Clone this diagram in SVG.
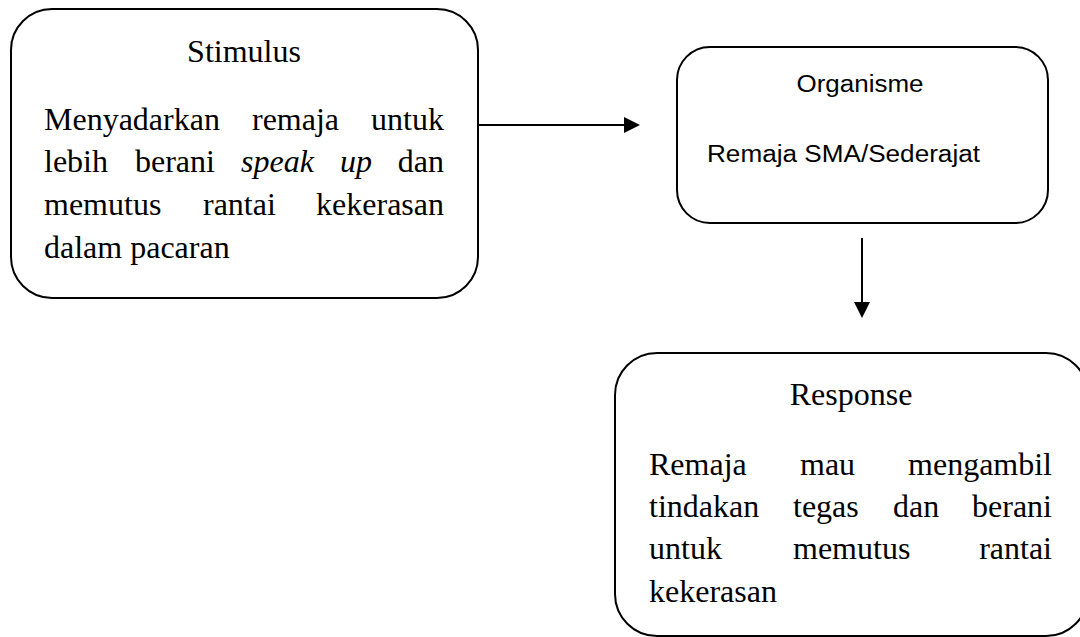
<svg xmlns="http://www.w3.org/2000/svg" width="1080" height="637" viewBox="0 0 1080 637">
<style>
.box{fill:#fff;stroke:#000;stroke-width:2}
.serif{font-family:"Liberation Serif","Times New Roman",serif;font-size:32px;fill:#000}
.sans{font-family:"Liberation Sans",Arial,sans-serif;font-size:23px;fill:#000}
.conn{stroke:#000;stroke-width:2;fill:none}
</style>
<defs>
<marker id="ah" markerUnits="userSpaceOnUse" markerWidth="16" markerHeight="16" refX="6" refY="8" orient="auto">
<path d="M0,0 L16,8 L0,16 Z" fill="#000"/>
</marker>
</defs>
<rect width="1080" height="637" fill="#fff"/>
<g id="stimulus">
<rect class="box" x="11" y="9" width="467" height="289" rx="41" ry="41"/>
<text class="serif" x="244" y="62" text-anchor="middle">Stimulus</text>
<text class="serif" y="130"><tspan x="44">Menyadarkan</tspan><tspan x="252">remaja</tspan><tspan x="444" text-anchor="end">untuk</tspan></text>
<text class="serif" y="172"><tspan x="44">lebih</tspan><tspan x="135">berani</tspan><tspan x="241" font-style="italic">speak</tspan><tspan x="340" font-style="italic">up</tspan><tspan x="444" text-anchor="end">dan</tspan></text>
<text class="serif" y="215"><tspan x="44">memutus</tspan><tspan x="203">rantai</tspan><tspan x="444" text-anchor="end">kekerasan</tspan></text>
<text class="serif" x="44" y="258">dalam pacaran</text>
</g>
<g id="organisme">
<rect class="box" x="677" y="47" width="371" height="176" rx="33" ry="33"/>
<text class="sans" x="860" y="92" text-anchor="middle" textLength="127" lengthAdjust="spacingAndGlyphs">Organisme</text>
<text class="sans" x="707" y="162" textLength="273" lengthAdjust="spacingAndGlyphs">Remaja SMA/Sederajat</text>
</g>
<g id="response">
<rect class="box" x="615" y="353" width="473" height="283" rx="42" ry="42"/>
<text class="serif" x="851" y="405" text-anchor="middle">Response</text>
<text class="serif" y="475"><tspan x="649">Remaja</tspan><tspan x="800">mau</tspan><tspan x="1052" text-anchor="end">mengambil</tspan></text>
<text class="serif" y="517"><tspan x="649">tindakan</tspan><tspan x="793">tegas</tspan><tspan x="893">dan</tspan><tspan x="1052" text-anchor="end">berani</tspan></text>
<text class="serif" y="559"><tspan x="649">untuk</tspan><tspan x="793">memutus</tspan><tspan x="1052" text-anchor="end">rantai</tspan></text>
<text class="serif" x="649" y="602">kekerasan</text>
</g>
<g id="connectors">
<line class="conn" x1="478" y1="125" x2="630" y2="125" marker-end="url(#ah)"/>
<line class="conn" x1="862" y1="238" x2="862" y2="308" marker-end="url(#ah)"/>
</g>
</svg>
